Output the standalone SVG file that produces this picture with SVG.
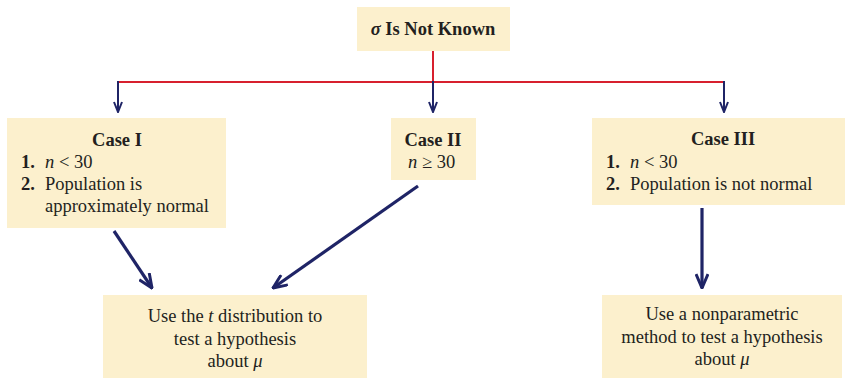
<svg xmlns="http://www.w3.org/2000/svg" width="847" height="381" viewBox="0 0 847 381" font-family="'Liberation Serif', 'Times New Roman', serif">
<style>
.box{fill:#fcf0cd;stroke:none}
text{font-family:'Liberation Serif','Times New Roman',serif;fill:#231f20;font-size:18.5px}
.b{font-weight:bold}
.h{font-weight:bold}
.c{text-anchor:middle}
.i{font-style:italic}
.red{stroke:#d7202e;stroke-width:2;fill:none}
.thin{stroke:#1f2466;stroke-width:2;fill:none}
.thick{stroke:#1f2466;stroke-width:3.2;fill:none}
</style>
<defs>
<marker id="ah" viewBox="0 0 12 10" refX="11" refY="5" markerWidth="12" markerHeight="10" markerUnits="userSpaceOnUse" orient="auto">
<path d="M1,1 L11,5 L1,9" fill="none" stroke="#1f2466" stroke-width="2"/>
</marker>
<marker id="ah2" viewBox="0 0 16 14" refX="15" refY="7" markerWidth="16" markerHeight="14" markerUnits="userSpaceOnUse" orient="auto">
<path d="M1,1 L15,7 L1,13" fill="none" stroke="#1f2466" stroke-width="3"/>
</marker>
</defs>
<g id="connectors">
<path class="red" d="M433,51 V82 M118,82 H724"/>
<line class="thin" x1="118" y1="81" x2="118" y2="112" marker-end="url(#ah)"/>
<line class="thin" x1="433" y1="81" x2="433" y2="112" marker-end="url(#ah)"/>
<line class="thin" x1="724" y1="81" x2="724" y2="112" marker-end="url(#ah)"/>
<line class="thick" x1="114" y1="231" x2="152" y2="288" marker-end="url(#ah2)"/>
<line class="thick" x1="418" y1="186" x2="273" y2="288" marker-end="url(#ah2)"/>
<line class="thick" x1="702" y1="208" x2="702" y2="288" marker-end="url(#ah2)"/>
</g>
<g id="top">
<rect class="box" x="357" y="7" width="153" height="44"/>
<text class="h c" x="433" y="35"><tspan class="i">σ</tspan> Is Not Known</text>
</g>
<g id="case1">
<rect class="box" x="7" y="118" width="219" height="110"/>
<text class="h c" x="117" y="146">Case I</text>
<text class="b" x="21" y="168">1.</text>
<text x="45" y="168"><tspan class="i">n</tspan> &lt; 30</text>
<text class="b" x="21" y="190">2.</text>
<text x="45" y="190">Population is</text>
<text x="45" y="212">approximately normal</text>
</g>
<g id="case2">
<rect class="box" x="391" y="118" width="85" height="62"/>
<text class="h c" x="433" y="146">Case II</text>
<text x="408" y="168"><tspan class="i">n</tspan> ≥ 30</text>
</g>
<g id="case3">
<rect class="box" x="592" y="118" width="253" height="87"/>
<text class="h c" x="723" y="145">Case III</text>
<text class="b" x="606" y="168">1.</text>
<text x="630" y="168"><tspan class="i">n</tspan> &lt; 30</text>
<text class="b" x="606" y="190">2.</text>
<text x="630" y="190">Population is not normal</text>
</g>
<g id="tdist">
<rect class="box" x="103" y="295" width="264" height="83"/>
<text class="c" x="235" y="322">Use the <tspan class="i">t</tspan> distribution to</text>
<text class="c" x="235" y="345">test a hypothesis</text>
<text class="c" x="235" y="367">about <tspan class="i">μ</tspan></text>
</g>
<g id="nonpar">
<rect class="box" x="602" y="295" width="240" height="83"/>
<text class="c" x="722" y="320">Use a nonparametric</text>
<text class="c" x="722" y="343">method to test a hypothesis</text>
<text class="c" x="722" y="365">about <tspan class="i">μ</tspan></text>
</g>
</svg>
